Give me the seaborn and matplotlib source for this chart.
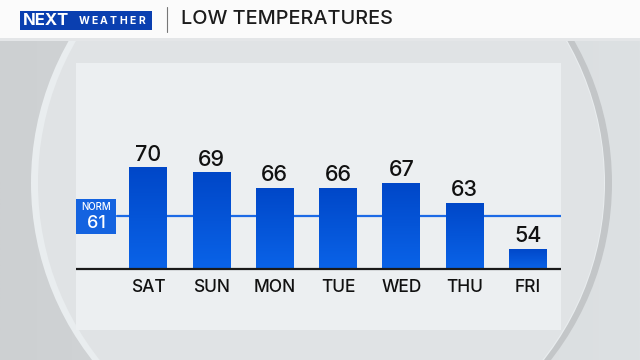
import matplotlib
matplotlib.use("Agg")
import matplotlib.pyplot as plt
import seaborn as sns
import pandas as pd
import numpy as np
from matplotlib.patches import Rectangle, Ellipse
from matplotlib.colors import LinearSegmentedColormap

days = ["SAT", "SUN", "MON", "TUE", "WED", "THU", "FRI"]
lows = [70, 69, 66, 66, 67, 63, 54]
normal_low = 61
base_value = 50
title = "LOW TEMPERATURES"

sns.set_theme(style="white")
plt.rcParams["font.family"] = ["Inter", "DejaVu Sans"]

fig = plt.figure(figsize=(6.4, 3.6), dpi=100)
fig.patch.set_facecolor("#d2d5d7")

# decoration layer in pixel coordinates
bg = fig.add_axes([0, 0, 1, 1])
grad = np.linspace(0, 1, 256).reshape(1, -1)
bg_cmap = LinearSegmentedColormap.from_list("bgc", ["#cdd0d2", "#d6d9db", "#dde1e3"])
bg.imshow(grad, extent=(0, 640, 360, 0), aspect="auto", cmap=bg_cmap, zorder=0)
bg.add_patch(Ellipse((325, 183), 574, 574, facecolor="#c3c6c8", edgecolor="none", zorder=1))
bg.add_patch(Ellipse((318, 183), 574, 574, facecolor="#e9edef", edgecolor="none", zorder=1.1))
bg.add_patch(Ellipse((321, 183), 566, 568, facecolor="#e0e3e5", edgecolor="none", zorder=1.2))
bg.set_xlim(0, 640)
bg.set_ylim(360, 0)
bg.axis("off")
# header
bg.add_patch(Rectangle((0, 0), 640, 38, facecolor="#fbfbfb", edgecolor="none", zorder=2))
bg.add_patch(Rectangle((0, 38), 640, 3, facecolor="#e4e6e8", edgecolor="none", zorder=2))
bg.add_patch(Rectangle((20, 11), 132, 19, facecolor="#0a3fb0", edgecolor="none", zorder=3))
bg.text(23, 20.5, "NEXT", color="white", fontsize=12, fontweight="bold",
        ha="left", va="center", zorder=4)
for k, ch in enumerate("WEATHER"):
    bg.text(84.5 + k * 9.6, 20.8, ch, color="white", fontsize=7.5, fontweight="bold",
            ha="center", va="center", zorder=4)
bg.plot([167, 167], [7, 32], color="#777777", lw=0.8, zorder=4)
bg.text(181, 19.5, title, color="#1c1c1c", fontsize=14.3, fontweight="medium",
        ha="left", va="center", zorder=4)
# panel
bg.add_patch(Rectangle((76, 63), 485, 267, facecolor="#eceff1", edgecolor="none", zorder=3))

# main chart axes
ax = fig.add_axes([76 / 640, 30 / 360, 485 / 640, 267 / 360])
ax.patch.set_alpha(0)
df = pd.DataFrame({"day": days, "low": lows})
sns.barplot(data=df, x="day", y="low", color="#0450d4", saturation=1,
            width=0.6, ax=ax, zorder=3)
bar_cmap = LinearSegmentedColormap.from_list("barc", ["#0a63e8", "#0047c8"])
for p in list(ax.patches):
    h = p.get_height()
    p.set_y(base_value)
    p.set_height(h - base_value)
    p.set_edgecolor("none")
    x0 = p.get_x()
    w = p.get_width()
    im = ax.imshow(np.linspace(0, 1, 64).reshape(-1, 1), cmap=bar_cmap, origin="lower",
                   extent=(x0, x0 + w, base_value, h), aspect="auto", zorder=3.5)
    im.set_clip_path(p)
ax.set_xlim(-1.14, 6.52)
ax.set_ylim(38.0, 90.5)
ax.axis("off")

# normal line
ax.plot([-0.5, 6.52], [normal_low - 0.6, normal_low - 0.6], color="#1c6ae6",
        lw=1.6, zorder=2)
# baseline
ax.plot([-1.14, 6.52], [base_value, base_value], color="#1a1a1a", lw=1.6, zorder=4)

for i, v in enumerate(lows):
    ax.text(i, v + 0.5, str(v), ha="center", va="bottom", fontsize=15.5,
            fontweight="medium", color="#111111", zorder=5)
    ax.text(i, base_value - 3.6, days[i], ha="center", va="center", fontsize=12.5,
            fontweight="medium", color="#111111", zorder=5)

# NORM box
bg2 = fig.add_axes([0, 0, 1, 1])
bg2.set_xlim(0, 640)
bg2.set_ylim(360, 0)
bg2.axis("off")
bg2.patch.set_alpha(0)
bg2.add_patch(Rectangle((76, 199), 40, 35, facecolor="#1463e0", edgecolor="none"))
bg2.text(96, 207.5, "NORM", color="white", fontsize=7, fontweight="medium",
         ha="center", va="center")
bg2.text(96, 223.5, str(normal_low), color="white", fontsize=13, fontweight="medium",
         ha="center", va="center")

fig.savefig("out.png", dpi=100)
